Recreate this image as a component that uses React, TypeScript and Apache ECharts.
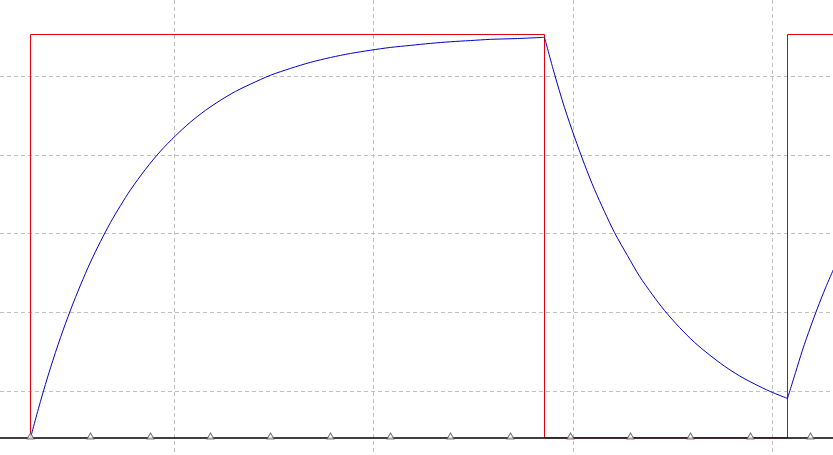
import React, { useEffect, useRef } from "react";
import * as echarts from "echarts";

// time in sample units (0 = start of first pulse), voltage normalised to the pulse height
const pulseT = [0, 0, 514, 514, 757, 757, 803];
const pulseV = [0, 1, 1, 0, 0, 1, 1];

const chargeT = [0, 10, 20, 30, 40, 50, 60, 70, 80, 90, 100, 115, 130, 145, 160, 175, 190, 205, 220, 240, 260, 280, 300, 320, 340, 360, 380, 400, 420, 440, 460, 487, 514];
const chargeV = [0, 0.091, 0.174, 0.249, 0.317, 0.379, 0.436, 0.487, 0.534, 0.576, 0.615, 0.666, 0.711, 0.749, 0.783, 0.812, 0.837, 0.859, 0.877, 0.899, 0.916, 0.931, 0.943, 0.953, 0.961, 0.968, 0.973, 0.978, 0.982, 0.985, 0.988, 0.990, 0.993];

const dischargeT = [514, 524, 534, 544, 554, 564, 574, 584, 597, 609, 622, 634, 649, 664, 679, 694, 709, 724, 740, 757];
const dischargeV = [0.993, 0.902, 0.819, 0.746, 0.678, 0.616, 0.561, 0.509, 0.452, 0.401, 0.355, 0.316, 0.274, 0.237, 0.206, 0.178, 0.154, 0.134, 0.115, 0.098];

const rechargeT = [757, 765, 772, 780, 787, 795, 803];
const rechargeV = [0.098, 0.162, 0.218, 0.275, 0.322, 0.372, 0.418];

const markerT = [0, 60, 120, 180, 240, 300, 360, 420, 480, 540, 600, 660, 720, 780];

const zip = (a: number[], b: number[]) => a.map((x, i) => [x, b[i]]);

export default function App() {
  const ref = useRef<HTMLDivElement>(null);
  useEffect(() => {
    if (!ref.current) return;
    const chart = echarts.init(ref.current, null, { renderer: "svg" });
    const dash = { color: "#c0c0c0", width: 1, type: [4, 3] as any };
    const hidden = { axisLine: { show: false }, axisTick: { show: false }, axisLabel: { show: false } };
    const blue = { color: "#0000c8", width: 1 };
    chart.setOption({
      animation: false,
      backgroundColor: "#ffffff",
      grid: [
        { left: 0, right: 0, top: 0, bottom: 17 },
        { left: 174.5, right: 61, top: 0, bottom: 0 },
        { left: 0, right: 0, top: 76, bottom: 64 },
      ],
      xAxis: [
        {
          type: "value", gridIndex: 0, min: -30.5, max: 802.5, z: 3,
          axisLine: { show: true, onZero: false, lineStyle: { color: "#000", width: 1.5 } },
          axisTick: { show: false }, axisLabel: { show: false }, splitLine: { show: false },
        },
        { type: "value", gridIndex: 1, min: 0, max: 3, interval: 1, ...hidden, splitLine: { show: true, lineStyle: dash } },
        { type: "value", gridIndex: 2, min: 0, max: 1, ...hidden, splitLine: { show: false } },
      ],
      yAxis: [
        { type: "value", gridIndex: 0, min: 0, max: 1.0855, ...hidden, splitLine: { show: false } },
        { type: "value", gridIndex: 1, min: 0, max: 1, ...hidden, splitLine: { show: false } },
        { type: "value", gridIndex: 2, min: 0, max: 4, interval: 1, ...hidden, splitLine: { show: true, lineStyle: dash } },
      ],
      series: [
        {
          type: "line", data: zip(pulseT, pulseV), symbol: "none", z: 2,
          lineStyle: { color: "#e00010", width: 1 },
        },
        { type: "line", data: zip(chargeT, chargeV), symbol: "none", smooth: 0.3, z: 2, lineStyle: blue },
        { type: "line", data: zip(dischargeT, dischargeV), symbol: "none", smooth: 0.3, z: 2, lineStyle: blue },
        { type: "line", data: zip(rechargeT, rechargeV), symbol: "none", smooth: 0.3, z: 2, lineStyle: blue },
        {
          type: "scatter", data: markerT.map((t) => [t, 0]), symbol: "triangle", symbolSize: [7, 6],
          symbolOffset: [0, -2], z: 5,
          itemStyle: { color: "#ffffff", borderColor: "#555", borderWidth: 1 },
        },
      ],
    });
    return () => chart.dispose();
  }, []);
  return (
    <div
      ref={ref}
      style={{ position: "absolute", left: 0, top: 0, width: 833, height: 455, background: "#fff" }}
    />
  );
}
